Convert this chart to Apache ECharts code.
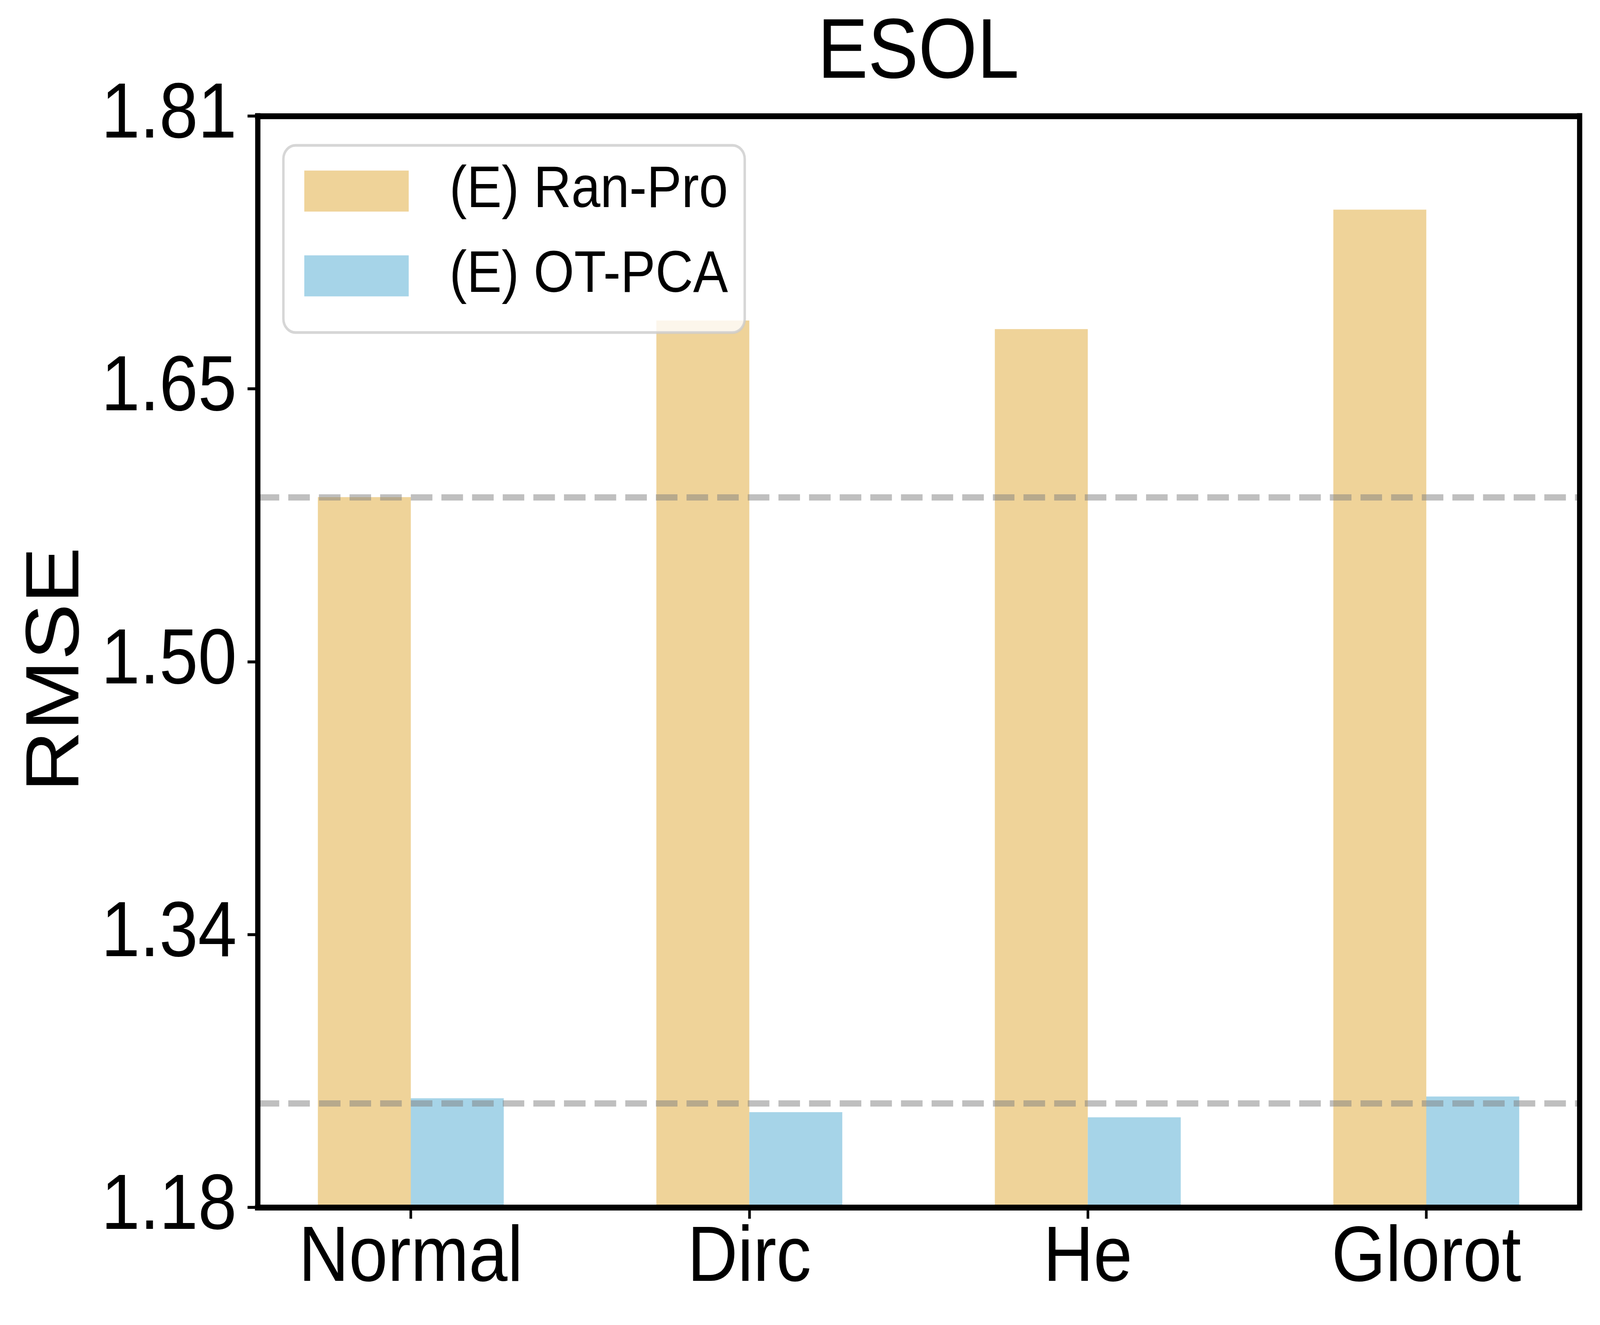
<!DOCTYPE html>
<html><head><meta charset="utf-8">
<script src="https://cdn.jsdelivr.net/npm/echarts@6/dist/echarts.min.js"></script>
<style>html,body{margin:0;padding:0;background:#fff;overflow:hidden}#c{width:4596px;height:3391px;transform-origin:0 0}</style>
</head><body><div id="c"></div>
<script>
const categories = ['Normal', 'Dirc', 'He', 'Glorot'];
const ranPro = [1.590, 1.692, 1.687, 1.756];
const otPca = [1.243, 1.235, 1.232, 1.244];
const yTickValues = [1.18, 1.3375, 1.495, 1.6525, 1.81];
const yTickLabels = ['1.18', '1.34', '1.50', '1.65', '1.81'];
const seriesNames = ['(E) Ran-Pro', '(E) OT-PCA'];
const titleText = 'ESOL';
const yName = 'RMSE';

const FONT = '"Liberation Sans", Arial, Helvetica, sans-serif';
const el = document.getElementById('c');
// fit the 4596x3391 design into the actual viewport
el.style.transform = 'scale(' + (window.innerWidth / 4596) + ',' + (window.innerHeight / 3391) + ')';
const chart = echarts.init(el, null, {renderer: 'canvas', width: 4596, height: 3391});
const xIdx = categories.map((_, i) => i);
const xMin = -0.4525, xMax = 3.4525;
const frameLine = {show: true, onZero: false, lineStyle: {color: '#000', width: 15, cap: 'square'}};
const tickStyle = {color: '#000', width: 7.5};

const option = {
  backgroundColor: '#fff',
  animation: false,
  title: {
    text: titleText, left: 2638, top: 31, padding: 0, textAlign: 'center',
    textStyle: {fontFamily: FONT, fontSize: 217, fontWeight: 'normal', color: '#000'}
  },
  legend: {
    orient: 'vertical', left: 814, top: 372, padding: [42, 48, 70, 60],
    itemGap: 67, itemWidth: 300, itemHeight: 105, icon: 'rect', selectedMode: false,
    backgroundColor: 'rgba(255,255,255,0.8)', borderColor: 'rgba(204,204,204,0.8)',
    borderWidth: 7, borderRadius: 35,
    textStyle: {fontFamily: FONT, fontSize: 150, color: '#000', lineHeight: 150, padding: [0, 0, 0, 112]},
    data: seriesNames
  },
  grid: {left: 740, top: 297, right: 59, bottom: 301, containLabel: false, outerBoundsMode: 'none'},
  xAxis: [{
    type: 'value', min: xMin, max: xMax, z: 10,
    axisLine: frameLine, splitLine: {show: false},
    axisTick: {show: true, customValues: xIdx, length: 29, lineStyle: tickStyle},
    axisLabel: {
      customValues: xIdx, formatter: v => categories[Math.round(v)], margin: 33,
      fontFamily: FONT, fontSize: 200, color: '#000'
    }
  }, {
    type: 'value', position: 'top', min: xMin, max: xMax, z: 10,
    axisLine: frameLine, splitLine: {show: false}, axisTick: {show: false}, axisLabel: {show: false}
  }],
  yAxis: [{
    type: 'value', min: 1.18, max: 1.81, z: 10,
    name: yName, nameLocation: 'middle', nameGap: 466,
    nameTextStyle: {fontFamily: FONT, fontSize: 217, color: '#000', padding: [0, 40, 0, 0]},
    axisLine: frameLine, splitLine: {show: false},
    axisTick: {show: true, customValues: yTickValues, length: 29, lineStyle: tickStyle},
    axisLabel: {
      customValues: yTickValues,
      formatter: v => {
        let best = 0;
        yTickValues.forEach((t, i) => { if (Math.abs(t - v) < Math.abs(yTickValues[best] - v)) best = i; });
        return yTickLabels[best];
      },
      margin: 60, fontFamily: FONT, fontSize: 200, color: '#000'
    }
  }, {
    type: 'value', position: 'right', min: 1.18, max: 1.81, z: 10,
    axisLine: frameLine, splitLine: {show: false}, axisTick: {show: false}, axisLabel: {show: false}
  }],
  series: [{
    type: 'bar', name: seriesNames[0], xAxisIndex: 0, yAxisIndex: 0,
    data: ranPro.map((v, i) => [i, v]), barWidth: 267, barGap: '0%', clip: true,
    itemStyle: {color: '#EFD399'}, z: 2
  }, {
    type: 'bar', name: seriesNames[1], xAxisIndex: 0, yAxisIndex: 0,
    data: otPca.map((v, i) => [i, v]), barWidth: 267, barGap: '0%', clip: true,
    itemStyle: {color: '#A6D4E8'}, z: 2
  }, {
    type: 'line', name: 'reference', xAxisIndex: 0, yAxisIndex: 0, data: [], silent: true, z: 5,
    markLine: {
      silent: true, symbol: ['none', 'none'], label: {show: false}, animation: false,
      emphasis: {disabled: true},
      lineStyle: {color: 'rgba(128,128,128,0.5)', width: 16, type: [62, 26], dashOffset: 0},
      data: [{yAxis: ranPro[0]}, {yAxis: otPca[0]}]
    }
  }]
};
chart.setOption(option);
</script></body></html>
